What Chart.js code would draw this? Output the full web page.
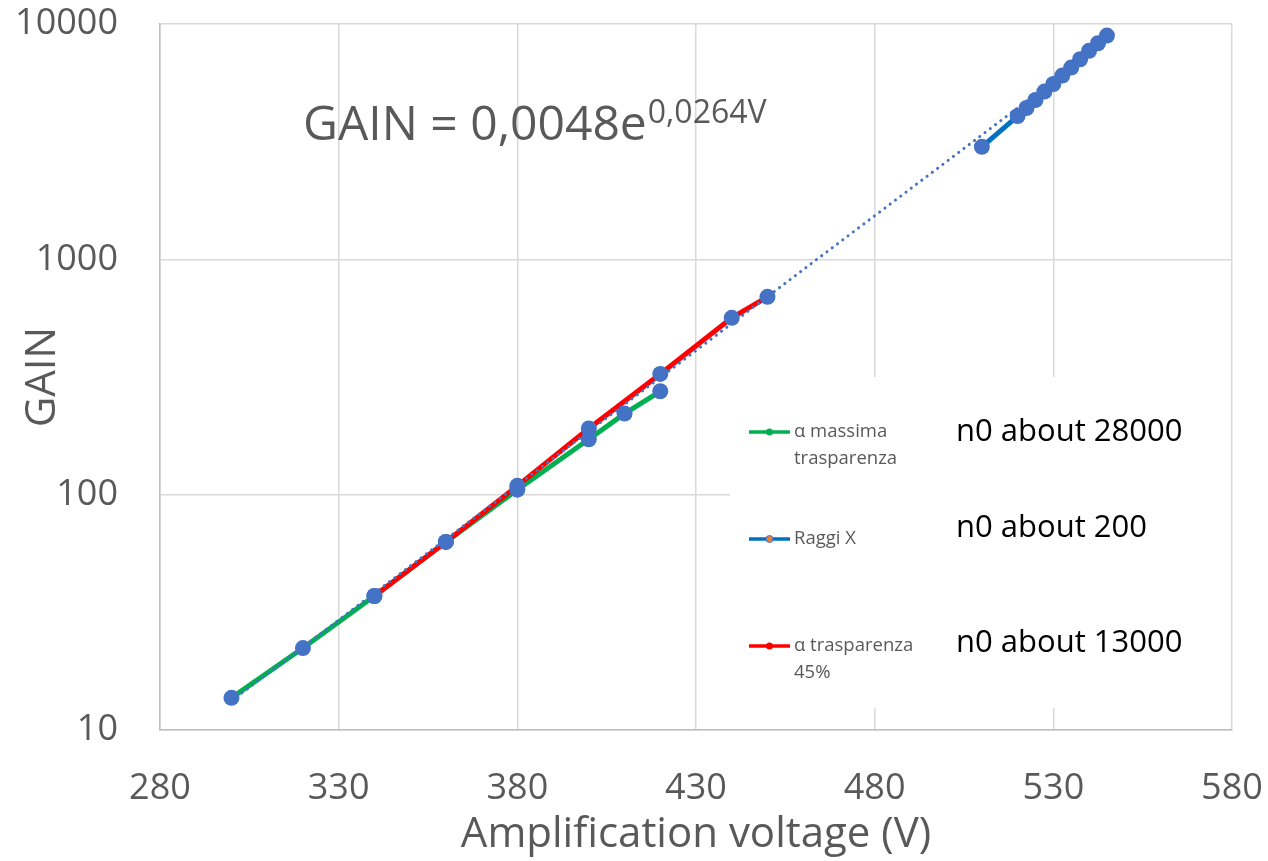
<!DOCTYPE html>
<html>
<head>
<meta charset="utf-8">
<script src="https://cdn.jsdelivr.net/npm/chart.js@4/dist/chart.umd.min.js"></script>
<style>
html,body{margin:0;padding:0;background:#fff;}
#wrap{width:1268px;height:861px;position:relative;}
</style>
</head>
<body>
<div id="wrap"><canvas id="c" width="1268" height="861"></canvas></div>
<script>
// Data
const greenV = [300, 320, 340, 360, 380, 400, 410, 420];
const greenGain = [13.7, 22.3, 37.1, 63, 105, 172, 221, 275];
const redV = [340, 360, 380, 400, 420, 440, 450];
const redGain = [37.1, 63, 109, 191, 326, 564, 693];
const blueV = [510, 520, 522.5, 525, 527.5, 530, 532.5, 535, 537.5, 540, 542.5, 545];
const blueGain = [3006, 4064, 4395, 4755, 5160, 5560, 6035, 6530, 7085, 7690, 8285, 8930];
const trendV = [300, 545];
const trendGain = [13.3, 8500];
const xTicks = [280, 330, 380, 430, 480, 530, 580];
const yTicks = [10, 100, 1000, 10000];
const legendLabels = [["α massima", "trasparenza"], ["Raggi X"], ["α trasparenza", "45%"]];
const legendNotes = ["n0 about 28000", "n0 about 200", "n0 about 13000"];
const equationMain = "GAIN = 0,0048e";
const equationSup = "0,0264V";

const pts = (xs, ys) => xs.map((x, i) => ({x: x, y: ys[i]}));
const FONT = "'Open Sans', 'Liberation Sans', sans-serif";

const boxPlugin = {
  id: 'box',
  beforeDatasetsDraw(chart) {
    const ctx = chart.ctx;
    ctx.save();
    ctx.fillStyle = '#ffffff';
    ctx.fillRect(730, 377, chart.chartArea.right - 730 - 1, 331);
    ctx.restore();
  },
  afterDraw(chart) {
    const ctx = chart.ctx;
    ctx.save();
    // equation
    ctx.fillStyle = '#595959';
    ctx.textBaseline = 'alphabetic';
    ctx.textAlign = 'left';
    ctx.font = '48px ' + FONT;
    ctx.fillText(equationMain, 303, 140);
    const w = ctx.measureText(equationMain).width;
    ctx.font = '32px ' + FONT;
    ctx.fillText(equationSup, 303 + w + 1, 123);
    // legend
    const cols = ['#00B050', '#0070C0', '#FF0000'];
    const dots = ['#00B050', '#ED7D31', '#FF0000'];
    const ys = [432, 539, 646];
    const noteY = [432, 528, 643];
    for (let i = 0; i < 3; i++) {
      ctx.strokeStyle = cols[i];
      ctx.lineWidth = 3.5;
      ctx.beginPath();
      ctx.moveTo(749, ys[i]);
      ctx.lineTo(790, ys[i]);
      ctx.stroke();
      ctx.beginPath();
      ctx.arc(769.5, ys[i], 3.5, 0, Math.PI * 2);
      ctx.fillStyle = dots[i];
      ctx.fill();
      if (i === 1) { ctx.strokeStyle = '#4472C4'; ctx.lineWidth = 1; ctx.stroke(); }
      ctx.fillStyle = '#595959';
      ctx.font = '18.5px ' + FONT;
      ctx.textBaseline = 'middle';
      legendLabels[i].forEach((t, j) => ctx.fillText(t, 794, ys[i] + j * 27));
      ctx.fillStyle = '#000000';
      ctx.font = '31px ' + FONT;
      ctx.fillText(legendNotes[i], 956, noteY[i]);
    }
    ctx.restore();
  }
};

const noOverhang = s => { s.paddingTop = 0; s.paddingBottom = 0; s.paddingLeft = 0; s.paddingRight = 0; };

new Chart(document.getElementById('c'), {
  type: 'scatter',
  data: {
    datasets: [
      {label: 'α massima trasparenza', data: pts(greenV, greenGain), showLine: true, borderColor: '#00B050', borderWidth: 5, pointRadius: 0, order: 5},
      {label: 'Raggi X', data: pts(blueV, blueGain), showLine: true, borderColor: '#0070C0', borderWidth: 5, pointRadius: 0, order: 4},
      {label: 'α trasparenza 45%', data: pts(redV, redGain), showLine: true, borderColor: '#FF0000', borderWidth: 5, pointRadius: 0, order: 3},
      {label: 'trend', data: pts(trendV, trendGain), showLine: true, borderColor: '#4472C4', borderWidth: 3, borderDash: [0.1, 6.5], borderCapStyle: 'round', pointRadius: 0, order: 2},
      {label: 'points', data: pts(greenV.concat(redV, blueV), greenGain.concat(redGain, blueGain)), showLine: false, backgroundColor: '#4472C4', borderColor: '#4472C4', pointRadius: 8, borderWidth: 0, order: 1}
    ]
  },
  options: {
    responsive: false,
    animation: false,
    events: [],
    layout: {padding: {top: 24, right: 36, left: 0, bottom: 0}},
    plugins: {legend: {display: false}, tooltip: {enabled: false}},
    scales: {
      x: {
        type: 'linear', min: 280, max: 580,
        afterBuildTicks: s => { s.ticks = xTicks.map(v => ({value: v})); },
        afterFit: s => { s.height = 131; noOverhang(s); },
        grid: {color: '#d9d9d9', lineWidth: 1.5, drawTicks: false},
        border: {color: '#bfbfbf', width: 1.5},
        ticks: {padding: 37, color: '#595959', font: {size: 36, family: FONT}},
        title: {display: true, text: 'Amplification voltage (V)', color: '#595959', font: {size: 42, family: FONT}, padding: {top: 0, bottom: 1}}
      },
      y: {
        type: 'logarithmic', min: 10, max: 10000,
        afterBuildTicks: s => { s.ticks = yTicks.map(v => ({value: v, major: true})); },
        afterFit: s => { s.width = 160; noOverhang(s); },
        grid: {color: '#d9d9d9', lineWidth: 1.5, drawTicks: false},
        border: {color: '#bfbfbf', width: 1.5},
        ticks: {padding: 42, color: '#595959', font: {size: 36, family: FONT}, callback: v => String(v)},
        title: {display: true, text: 'GAIN', color: '#595959', font: {size: 42, family: FONT}, padding: {top: 18, bottom: 0}}
      }
    }
  },
  plugins: [boxPlugin]
});
</script>
</body>
</html>
